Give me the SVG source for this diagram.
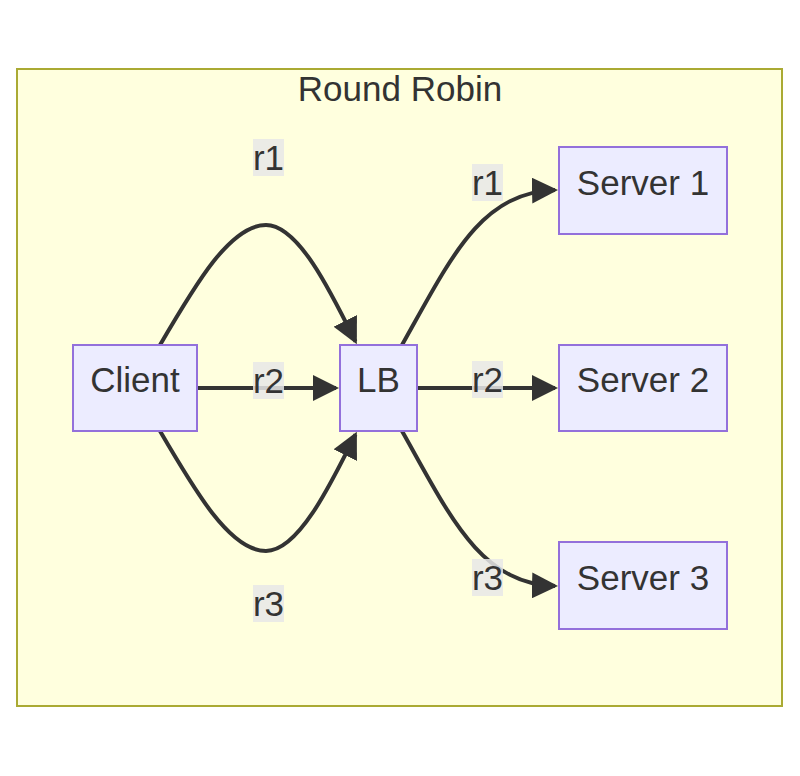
<svg xmlns="http://www.w3.org/2000/svg" width="800" height="776" viewBox="0 0 800 776">
<style>
  .cluster { fill: #ffffde; stroke: #aaaa33; stroke-width: 2; }
  .node rect { fill: #ececff; stroke: #9370db; stroke-width: 2; }
  text { font-family: "Liberation Sans", Arial, sans-serif; font-size: 35px; fill: #333333; text-anchor: middle; }
  .edge { fill: none; stroke: #333333; stroke-width: 4; marker-end: url(#arrow); }
  .lbl rect { fill: #e8e8e8; opacity: 0.85; }
</style>
<defs>
  <marker id="arrow" markerUnits="userSpaceOnUse" viewBox="0 0 26 26" refX="23" refY="13" markerWidth="26" markerHeight="26" orient="auto">
    <path d="M0,0 L26,13 L0,26 z" fill="#333333"/>
  </marker>
</defs>
<rect width="800" height="776" fill="#ffffff"/>
<g id="cluster-round-robin">
  <rect class="cluster" x="17" y="69" width="765" height="637"/>
  <text x="400" y="101">Round Robin</text>
</g>
<g id="connectors">
  <path class="edge" d="M160,345 C195,285 230,225 266,225 C298,225 330,290 355.5,341.5"/>
  <path class="edge" d="M197,388 L336,388"/>
  <path class="edge" d="M160,431 C195,491 230,551 266,551 C298,551 330,486 355.5,434.5"/>
  <path class="edge" d="M402,345 C450,260 480,192 555,190"/>
  <path class="edge" d="M417,388 L555,388"/>
  <path class="edge" d="M402,431 C450,516 480,584 555,586"/>
</g>
<g id="edge-labels">
  <g class="lbl"><rect x="253" y="139" width="31" height="37"/><text x="268.5" y="170">r1</text></g>
  <g class="lbl"><rect x="253" y="362" width="31" height="37"/><text x="268.5" y="393">r2</text></g>
  <g class="lbl"><rect x="253" y="585" width="31" height="37"/><text x="268.5" y="616">r3</text></g>
  <g class="lbl"><rect x="472" y="164" width="31" height="37"/><text x="487.5" y="195">r1</text></g>
  <g class="lbl"><rect x="472" y="361" width="31" height="37"/><text x="487.5" y="392">r2</text></g>
  <g class="lbl"><rect x="472" y="559" width="31" height="37"/><text x="487.5" y="590">r3</text></g>
</g>
<g id="node-client" class="node">
  <rect x="73" y="345" width="124" height="86"/>
  <text x="135" y="392">Client</text>
</g>
<g id="node-lb" class="node">
  <rect x="340" y="345" width="77" height="86"/>
  <text x="378.5" y="392">LB</text>
</g>
<g id="node-server1" class="node">
  <rect x="559" y="147" width="168" height="87"/>
  <text x="643" y="195">Server 1</text>
</g>
<g id="node-server2" class="node">
  <rect x="559" y="345" width="168" height="86"/>
  <text x="643" y="392">Server 2</text>
</g>
<g id="node-server3" class="node">
  <rect x="559" y="542" width="168" height="87"/>
  <text x="643" y="590">Server 3</text>
</g>
</svg>
